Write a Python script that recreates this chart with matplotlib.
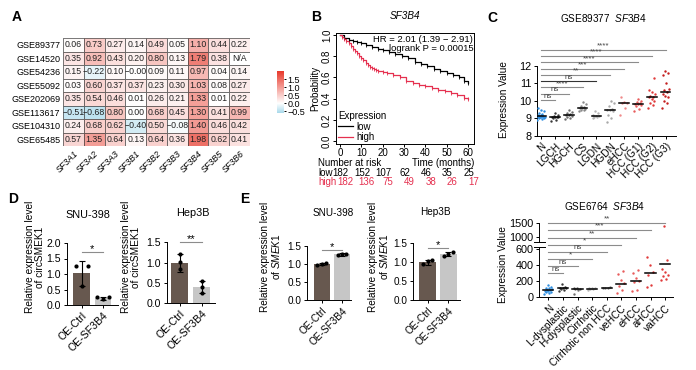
import numpy as np
import matplotlib
matplotlib.use('Agg')
import matplotlib.pyplot as plt
from matplotlib.colors import LinearSegmentedColormap, Normalize
from matplotlib.cm import ScalarMappable
import matplotlib.transforms as mtransforms
from matplotlib.ticker import FixedLocator, NullLocator, FormatStrFormatter

plt.rcParams['font.family'] = ['Liberation Sans', 'DejaVu Sans']
plt.rcParams['mathtext.fontset'] = 'custom'
plt.rcParams['mathtext.rm'] = 'Liberation Sans'
plt.rcParams['mathtext.it'] = 'Liberation Sans:italic'
plt.rcParams['axes.linewidth'] = 0.7
plt.rcParams['xtick.major.width'] = 0.7
plt.rcParams['ytick.major.width'] = 0.7
plt.rcParams['xtick.major.size'] = 2.5
plt.rcParams['ytick.major.size'] = 2.5
plt.rcParams['xtick.major.pad'] = 1.5
plt.rcParams['ytick.major.pad'] = 1.5

# ---------------- data ----------------
hm_rows = ['GSE89377', 'GSE14520', 'GSE54236', 'GSE55092', 'GSE202069',
           'GSE113617', 'GSE104310', 'GSE65485']
hm_cols = ['SF3A1', 'SF3A2', 'SF3A3', 'SF3B1', 'SF3B2', 'SF3B3', 'SF3B4', 'SF3B5', 'SF3B6']
hm_vals = np.array([
    [0.06, 0.73, 0.27, 0.14, 0.49, 0.05, 1.10, 0.44, 0.22],
    [0.35, 0.92, 0.43, 0.20, 0.80, 0.13, 1.79, 0.38, np.nan],
    [0.15, -0.22, 0.10, -0.0, 0.09, 0.11, 0.97, 0.04, 0.14],
    [0.03, 0.60, 0.37, 0.37, 0.23, 0.30, 1.03, 0.08, 0.27],
    [0.35, 0.54, 0.46, 0.01, 0.26, 0.21, 1.33, 0.01, 0.22],
    [-0.51, -0.68, 0.80, 0.00, 0.68, 0.45, 1.30, 0.41, 0.99],
    [0.24, 0.68, 0.62, -0.40, 0.50, -0.08, 1.40, 0.46, 0.42],
    [0.57, 1.35, 0.64, 0.13, 0.64, 0.36, 1.98, 0.62, 0.41],
])
cbar_ticks = [-0.5, 0.0, 0.5, 1.0, 1.5]

km_low_t = [0, 2, 4, 6, 8, 10, 12, 15, 18, 20, 23, 26, 29, 32, 35, 38, 41, 44, 47, 50, 53, 56, 58, 60]
km_low_s = [1.0, 0.97, 0.95, 0.94, 0.93, 0.92, 0.91, 0.89, 0.87, 0.86, 0.84, 0.82, 0.80, 0.78,
            0.75, 0.73, 0.71, 0.68, 0.66, 0.64, 0.62, 0.60, 0.57, 0.55]
km_high_t = [0, 1, 2, 3, 4, 5, 6, 7, 8, 9, 10, 11, 12, 13, 14, 15, 16, 17, 18, 20, 22, 25, 28,
             31, 34, 37, 40, 43, 46, 49, 52, 55, 58, 60]
km_high_s = [1.0, 0.98, 0.96, 0.94, 0.92, 0.90, 0.87, 0.85, 0.83, 0.80, 0.78, 0.76, 0.74, 0.72,
             0.70, 0.69, 0.68, 0.67, 0.66, 0.65, 0.64, 0.62, 0.60, 0.57, 0.55, 0.53, 0.52, 0.50,
             0.48, 0.47, 0.45, 0.43, 0.41, 0.40]
risk_times = [0, 10, 20, 30, 40, 50, 60]
risk_low = [182, 152, 107, 62, 46, 35, 25]
risk_high = [182, 136, 75, 49, 38, 26, 17]

c_groups = ['N', 'LGCH', 'HGCH', 'CS', 'LGDN', 'HGDN', 'eHCC', 'HCC (G1)', 'HCC (G2)', 'HCC (G3)']
c_values = [
    [8.9, 8.95, 9.0, 9.0, 9.05, 9.05, 9.1, 9.1, 9.1, 9.12, 9.15, 9.15, 9.2, 9.2, 9.25, 9.3, 9.4, 9.5, 9.6],
    [8.85, 8.9, 9.0, 9.05, 9.05, 9.1, 9.1, 9.15, 9.2, 9.3],
    [8.95, 9.0, 9.1, 9.15, 9.2, 9.2, 9.25, 9.3, 9.35, 9.45],
    [9.4, 9.45, 9.5, 9.55, 9.6, 9.6, 9.65, 9.7, 9.8, 9.95],
    [9.0, 9.05, 9.1, 9.15, 9.15, 9.2, 9.3, 9.4],
    [8.8, 9.0, 9.2, 9.4, 9.5, 9.5, 9.55, 9.7, 9.85, 10.0],
    [9.2, 9.6, 9.85, 9.85, 9.95, 10.2],
    [9.4, 9.55, 9.7, 9.75, 9.8, 9.8, 9.85, 9.95, 10.0, 10.1],
    [9.6, 9.75, 9.9, 10.0, 10.1, 10.2, 10.2, 10.3, 10.4, 10.5, 10.6, 11.3],
    [9.6, 9.85, 10.0, 10.2, 10.3, 10.4, 10.5, 10.6, 10.7, 11.0, 11.5, 11.6, 11.7],
]
c_medians = [9.12, 9.07, 9.2, 9.6, 9.15, 9.5, 9.85, 9.8, 10.2, 10.52]
c_sig = ['ns', 'ns', '****', 'ns', '**', '***', '****', '****', '****']

f_groups = ['N', 'L-dysplastic', 'H-dysplastic', 'Cirrhotic', 'Cirrhotic non HCC',
            'veHCC', 'eHCC', 'aHCC', 'vaHCC']
f_values = [
    [40, 55, 60, 70, 75, 80, 85, 90, 100, 110, 120, 130, 150],
    [80, 95, 100, 110, 115, 120, 130, 170],
    [45, 90, 100, 105, 110, 120],
    [95, 100, 105, 110, 115, 120],
    [110, 118, 122, 128],
    [50, 90, 140, 175, 215, 290, 330],
    [80, 90, 185, 205, 235, 300, 340],
    [125, 155, 280, 320, 400, 500],
    [210, 225, 260, 280, 320, 350, 470, 1400],
]
f_medians = [85, 112, 102, 108, 122, 163, 204, 300, 415]
f_sig = ['ns', 'ns', '*', 'ns', '*', '**', '***', '**']

bar_labels = ['OE-Ctrl', 'OE-SF3B4']
d1_means = [1.02, 0.22]; d1_err = [0.40, 0.05]
d1_pts = [[1.26, 0.62, 1.26], [0.25, 0.20, 0.25]]
d2_means = [1.00, 0.40]; d2_err = [0.22, 0.15]
d2_pts = [[1.22, 1.02, 0.84], [0.55, 0.40, 0.25]]
e1_means = [1.00, 1.27]; e1_err = [0.04, 0.04]
e1_pts = [[0.97, 1.00, 1.03], [1.24, 1.28, 1.28]]
e2_means = [1.00, 1.22]; e2_err = [0.07, 0.06]
e2_pts = [[0.95, 1.02, 1.06], [1.17, 1.23, 1.26]]

# ---------------- figure ----------------
W, H = 696, 370
fig = plt.figure(figsize=(W / 100, H / 100), dpi=100)


def rect(l, t, r, b):
    return [l / W, 1 - b / H, (r - l) / W, (b - t) / H]


def ftext(x, y, s, **kw):
    return fig.text(x / W, 1 - y / H, s, **kw)


RED = '#e5304f'

# ---- A: heatmap ----
axA = fig.add_axes(rect(63, 38, 250, 146))
cmap = LinearSegmentedColormap.from_list(
    'bwr2', [(0.0, '#a6d8ea'), (0.6 / 2.6, '#ffffff'), (1.0, '#e8382a')])
norm = Normalize(-0.6, 2.0)
disp = np.nan_to_num(hm_vals, nan=0.0)
axA.pcolormesh(disp, cmap=cmap, norm=norm, edgecolors='#4a4a4a', linewidth=0.6, alpha=0.72)
for i in range(hm_vals.shape[0]):
    for j in range(hm_vals.shape[1]):
        v = hm_vals[i, j]
        s = 'N/A' if np.isnan(v) else f'{v:.2f}'.replace('-', '\u2212')
        axA.text(j + 0.5, i + 0.5, s, ha='center', va='center', fontsize=6.3, color='#222222')
axA.set_xlim(0, len(hm_cols))
axA.set_ylim(len(hm_rows), 0)
axA.set_yticks(np.arange(len(hm_rows)) + 0.5)
axA.set_yticklabels(hm_rows, fontsize=6.5)
axA.set_xticks(np.arange(len(hm_cols)) + 0.5)
axA.set_xticklabels(hm_cols, fontsize=6.3, style='italic', rotation=45, ha='right',
                    rotation_mode='anchor')
axA.tick_params(length=0, pad=2)
for sp in axA.spines.values():
    sp.set_visible(False)

cax = fig.add_axes(rect(277, 71, 284, 113))
cb = fig.colorbar(ScalarMappable(norm=norm, cmap=cmap), cax=cax, ticks=cbar_ticks)
cb.outline.set_visible(False)
cb.ax.set_yticklabels([f'{t:.1f}'.replace('-', '\u2212') for t in cbar_ticks])
cb.ax.tick_params(labelsize=6.5, length=1.5, pad=1)

# ---- B: KM ----
axB = fig.add_axes(rect(336, 33, 474, 144))
axB.step(km_low_t, km_low_s, where='post', color='black', lw=0.9, label='low')
axB.step(km_high_t, km_high_s, where='post', color=RED, lw=0.9, label='high')
axB.plot(km_low_t[1:], km_low_s[1:], ls='none', marker='|', ms=2.5, color='black', mew=0.6)
axB.plot(km_high_t[1:], km_high_s[1:], ls='none', marker='|', ms=2.5, color=RED, mew=0.6)
axB.set_xlim(-1.875, 62.8)
axB.set_ylim(-0.028, 1.019)
axB.set_xticks(risk_times)
axB.set_yticks([0, 0.2, 0.4, 0.6, 0.8, 1.0])
axB.yaxis.set_major_formatter(FormatStrFormatter('%.1f'))
axB.tick_params(labelsize=7, length=2, pad=0.8)
for lab in axB.get_yticklabels():
    lab.set_rotation(90)
    lab.set_va('center')
axB.set_ylabel('Probability', fontsize=7, labelpad=1)
axB.set_title('SF3B4', fontsize=7.2, style='italic', pad=10)
axB.text(0.995, 0.985, 'HR = 2.01 (1.39 \u2212 2.91)\nlogrank P = 0.00015', transform=axB.transAxes,
         ha='right', va='top', fontsize=6.8, linespacing=1.1)
leg = axB.legend(title='Expression', loc='lower left', frameon=False, fontsize=7,
                 title_fontsize=7, handlelength=1.5, handletextpad=0.4, labelspacing=0.05,
                 borderaxespad=0.1, borderpad=0.1)
leg._legend_box.align = 'left'
btr = mtransforms.blended_transform_factory(axB.transData, fig.transFigure)
ftext(318, 163.5, 'Number at risk', fontsize=7, va='center')
ftext(474, 163.5, 'Time (months)', fontsize=7, va='center', ha='right')
ftext(318, 173, 'low', fontsize=7, va='center')
ftext(318, 182.5, 'high', fontsize=7, va='center', color=RED)
for t, lo, hi in zip(risk_times, risk_low, risk_high):
    axB.text(t + 0.4, 1 - 173 / H, str(lo), transform=btr, fontsize=7, ha='center', va='center')
    axB.text(t + 2.6, 1 - 182.5 / H, str(hi), transform=btr, fontsize=7, ha='center', va='center',
             color=RED)

# ---- C: GSE89377 ----
c_colors = ['#2f8ee0', '#3a3a3a', '#6e6e6e', '#8a8a8a', '#b5b5b5', '#a8a8a8',
            '#f08a8a', '#e85c5c', '#e03a3a', '#c41e1e']
axC = fig.add_axes(rect(537, 40, 676, 135.7))
for i, (vals, col) in enumerate(zip(c_values, c_colors)):
    n = len(vals)
    off = ((np.arange(n) * 0.618) % 1 - 0.5) * 0.55
    axC.scatter(i + off, vals, s=3, color=col, lw=0, zorder=3)
    axC.plot([i - 0.35, i + 0.35], [c_medians[i]] * 2, color='black', lw=1.1, zorder=4)
for k, lab in enumerate(c_sig):
    i = k + 1
    y = 10.05 + 0.36 * k
    axC.plot([0, i], [y, y], color='#333333' if i == 4 else '#8c8c8c', lw=0.8, clip_on=False)
    axC.text(i / 2, y + 0.02, lab, ha='center', va='bottom', fontsize=5.8, color='#444444')
axC.set_xlim(-0.3, 9.75)
axC.set_ylim(8, 13.49)
axC.set_yticks([8, 9, 10, 11, 12])
axC.spines['left'].set_bounds(8, 12)
axC.spines['top'].set_visible(False)
axC.spines['right'].set_visible(False)
axC.set_xticks(range(len(c_groups)))
axC.set_xticklabels(c_groups, rotation=45, ha='right', rotation_mode='anchor', fontsize=7.3)
axC.tick_params(axis='y', labelsize=7.8)
ftext(504, 100, 'Expression Value', rotation=90, ha='center', va='center', fontsize=7.2)
ftext(603, 18, 'GSE89377  $\\it{SF3B4}$', ha='center', va='center', fontsize=7.2)

# ---- F: GSE6764 (broken axis) ----
def f_fwd(y):
    y = np.asarray(y, float)
    return np.where(y <= 600, y * 0.08,
                    np.where(y < 1000, 48 + (y - 600) * 0.0315, 60.6 + (y - 1000) * 0.0268))


def f_inv(p):
    p = np.asarray(p, float)
    return np.where(p <= 48, p / 0.08,
                    np.where(p < 60.6, 600 + (p - 48) / 0.0315, 1000 + (p - 60.6) / 0.0268))


f_colors = ['#2f8ee0', '#3a3a3a', '#6e6e6e', '#b5b5b5', '#8a8a8a',
            '#e85c5c', '#e85c5c', '#e03a3a', '#e03a3a']
axF = fig.add_axes(rect(539, 220.6, 673.3, 297.3))
axF.set_yscale('function', functions=(f_fwd, f_inv))
for i, (vals, col) in enumerate(zip(f_values, f_colors)):
    n = len(vals)
    off = ((np.arange(n) * 0.618) % 1 - 0.5) * 0.55
    axF.scatter(i + off, vals, s=3, color=col, lw=0, zorder=3)
    axF.plot([i - 0.35, i + 0.35], [f_medians[i]] * 2, color='black', lw=1.1, zorder=4)
for k, lab in enumerate(f_sig):
    i = k + 1
    h = 24 + 7.14 * k
    y = float(f_inv(h))
    axF.plot([0, i], [y, y], color='#8c8c8c', lw=0.8, clip_on=False)
    axF.text(i / 2, float(f_inv(h + 0.6)), lab, ha='center', va='bottom', fontsize=5.8,
             color='#444444', clip_on=False)
axF.set_xlim(-0.64, 8.56)
axF.set_ylim(0, 1600)
axF.yaxis.set_major_locator(FixedLocator([0, 200, 400, 600, 1000, 1500]))
axF.yaxis.set_minor_locator(NullLocator())
axF.yaxis.set_major_formatter(FormatStrFormatter('%d'))
for sp in ['top', 'right', 'left']:
    axF.spines[sp].set_visible(False)
ytr = axF.get_yaxis_transform()
axF.plot([0, 0], [0, float(f_inv(50))], color='black', lw=0.7, transform=ytr, clip_on=False)
axF.plot([0, 0], [float(f_inv(55.6)), 1500], color='black', lw=0.7, transform=ytr, clip_on=False)
for hb in [50, 55.6]:
    axF.plot([-0.035, 0.045], [float(f_inv(hb))] * 2, color='black', lw=0.7, transform=ytr,
             clip_on=False)
axF.set_xticks(range(len(f_groups)))
axF.set_xticklabels(f_groups, rotation=45, ha='right', rotation_mode='anchor', fontsize=7.3)
axF.tick_params(axis='y', labelsize=7.8)
ftext(503, 265, 'Expression Value', rotation=90, ha='center', va='center', fontsize=7.2)
ftext(605, 206, 'GSE6764  $\\it{SF3B4}$', ha='center', va='center', fontsize=7.2)

# ---- D & E bar charts ----
BAR_COLORS = ['#67584f', '#c6c6c6']


def bar_panel(r, means, errs, pts, ylim, yticks, sig, sig_y, sig_dy, xlim, offsets, fs):
    ax = fig.add_axes(r)
    x = np.arange(2)
    ax.bar(x, means, width=0.78, color=BAR_COLORS, zorder=1)
    ax.errorbar(x, means, yerr=errs, fmt='none', ecolor='black', elinewidth=0.8, capsize=2.2,
                capthick=0.8, zorder=2)
    for i in range(2):
        ax.scatter(i + np.array(offsets), pts[i], s=9, color='black', lw=0, zorder=3,
                   clip_on=False)
    ax.plot([0, 1], [sig_y, sig_y], color='#8c8c8c', lw=0.8, clip_on=False)
    ax.text(0.5, sig_y + sig_dy, sig, ha='center', va='center', fontsize=8, clip_on=False)
    ax.set_xlim(*xlim)
    ax.set_ylim(*ylim)
    ax.set_yticks(yticks)
    ax.yaxis.set_major_formatter(FormatStrFormatter('%.1f'))
    ax.set_xticks(x)
    ax.set_xticklabels(bar_labels, rotation=45, ha='right', rotation_mode='anchor', fontsize=fs)
    ax.tick_params(axis='y', labelsize=fs)
    ax.spines['top'].set_visible(False)
    ax.spines['right'].set_visible(False)
    return ax


bar_panel(rect(66.7, 243, 118, 305), d1_means, d1_err, d1_pts, (0, 2.0),
          [0, 0.5, 1.0, 1.5, 2.0], '*', 1.7, 0.09, (-0.7, 1.7), [-0.28, 0.0, 0.28], 7.6)
bar_panel(rect(166.7, 242.3, 215, 303.3), d2_means, d2_err, d2_pts, (0, 1.5),
          [0, 0.5, 1.0, 1.5], '**', 1.5, 0.07, (-0.6, 1.6), [0, 0, 0], 7.6)
bar_panel(rect(307.3, 246, 351, 300), e1_means, e1_err, e1_pts, (0, 1.5),
          [0, 0.5, 1.0, 1.5], '*', 1.38, 0.08, (-0.72, 1.45), [-0.22, 0.0, 0.22], 7.2)
bar_panel(rect(413.3, 243.3, 460, 300), e2_means, e2_err, e2_pts, (0, 1.5),
          [0, 0.5, 1.0, 1.5], '*', 1.37, 0.08, (-0.68, 1.55), [-0.22, 0.0, 0.22], 7.2)

ftext(35, 257, 'Relative expression level\nof circSMEK1', rotation=90, ha='center',
      va='center', fontsize=7.3, linespacing=1.1)
ftext(131, 257, 'Relative expression level\nof circSMEK1', rotation=90, ha='center',
      va='center', fontsize=7.3, linespacing=1.1)
ftext(271, 257, 'Relative expression level\nof $\\it{SMEK1}$', rotation=90, ha='center',
      va='center', fontsize=7.2, linespacing=1.1)
ftext(379, 257, 'Relative expression level\nof $\\it{SMEK1}$', rotation=90, ha='center',
      va='center', fontsize=7.2, linespacing=1.1)
ftext(88, 215, 'SNU-398', ha='center', va='center', fontsize=7.8)
ftext(193, 213, 'Hep3B', ha='center', va='center', fontsize=7.8)
ftext(333, 213, 'SNU-398', ha='center', va='center', fontsize=7.2)
ftext(435, 212, 'Hep3B', ha='center', va='center', fontsize=7.2)

# panel letters
for lt, (x, y) in {'A': (17, 17), 'B': (316, 17), 'C': (492, 18),
                   'D': (13, 199), 'E': (245, 199)}.items():
    ftext(x, y, lt, fontsize=10, fontweight='bold', ha='center', va='center')

fig.savefig('out.png', dpi=100)
